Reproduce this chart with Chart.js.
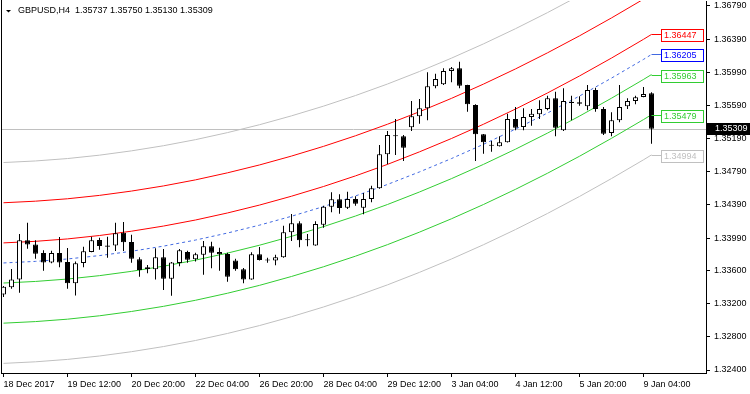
<!DOCTYPE html>
<html>
<head>
<meta charset="utf-8">
<title>GBPUSD,H4</title>
<script src="https://cdn.jsdelivr.net/npm/chart.js@4.4.0/dist/chart.umd.min.js"></script>
<style>
  html, body { margin: 0; padding: 0; background: #fff; }
  #wrap { width: 750px; height: 394px; }
</style>
</head>
<body>
<div id="wrap"><canvas id="chart" width="750" height="394"></canvas></div>
<script>
const chartTitle = 'GBPUSD,H4  1.35737 1.35750 1.35130 1.35309';

// H4 candles, oldest first
const opens = [1.33312, 1.33397, 1.33493, 1.33964, 1.33915, 1.33811, 1.33698, 1.33811, 1.33702, 1.33445,
    1.33690, 1.33823, 1.33967, 1.33903, 1.33903, 1.34055, 1.33943, 1.33735, 1.33638, 1.33614,
    1.33759, 1.33501, 1.33690, 1.33823, 1.33735, 1.33790, 1.33891, 1.33823, 1.33798, 1.33722,
    1.33614, 1.33493, 1.33795, 1.33724, 1.33722, 1.33759, 1.34060, 1.34169, 1.33976, 1.33903,
    1.34152, 1.34369, 1.34458, 1.34357, 1.34462, 1.34357, 1.34462, 1.34591, 1.35001, 1.35230,
    1.35218, 1.35327, 1.35460, 1.35556, 1.35821, 1.35845, 1.36006, 1.36039, 1.35837, 1.35596,
    1.35242, 1.35105, 1.35098, 1.35146, 1.35427, 1.35330, 1.35451, 1.35484, 1.35548, 1.35677,
    1.35291, 1.35636, 1.35628, 1.35580, 1.35777, 1.35548, 1.35258, 1.35411, 1.35580, 1.35644,
    1.35692, 1.35737];
const highs = [1.33412, 1.33617, 1.34040, 1.34176, 1.33964, 1.33843, 1.33838, 1.34004, 1.33871, 1.33710,
    1.33887, 1.34007, 1.33995, 1.34007, 1.34176, 1.34184, 1.34031, 1.33759, 1.33666, 1.33867,
    1.33859, 1.33702, 1.33859, 1.33838, 1.33814, 1.33955, 1.33947, 1.33874, 1.33814, 1.33742,
    1.33630, 1.33819, 1.33883, 1.33754, 1.33790, 1.34140, 1.34281, 1.34193, 1.34040, 1.34193,
    1.34381, 1.34543, 1.34519, 1.34550, 1.34494, 1.34534, 1.34622, 1.35113, 1.35282, 1.35427,
    1.35234, 1.35644, 1.35668, 1.35990, 1.35973, 1.36039, 1.36054, 1.36118, 1.35840, 1.35604,
    1.35245, 1.35162, 1.35218, 1.35491, 1.35572, 1.35556, 1.35548, 1.35653, 1.35708, 1.35756,
    1.35797, 1.35708, 1.35701, 1.35837, 1.35804, 1.35572, 1.35508, 1.35837, 1.35677, 1.35708,
    1.35813, 1.35750];
const lows = [1.33280, 1.33380, 1.33332, 1.33862, 1.33742, 1.33597, 1.33686, 1.33638, 1.33380, 1.33300,
    1.33638, 1.33820, 1.33850, 1.33754, 1.33835, 1.33835, 1.33694, 1.33525, 1.33566, 1.33493,
    1.33364, 1.33295, 1.33650, 1.33694, 1.33710, 1.33549, 1.33626, 1.33597, 1.33464, 1.33597,
    1.33445, 1.33490, 1.33722, 1.33694, 1.33662, 1.33755, 1.33955, 1.33879, 1.33891, 1.33900,
    1.34116, 1.34301, 1.34285, 1.34341, 1.34381, 1.34277, 1.34422, 1.34585, 1.34880, 1.34993,
    1.34920, 1.35282, 1.35370, 1.35411, 1.35797, 1.35837, 1.35870, 1.35797, 1.35515, 1.34920,
    1.35008, 1.35033, 1.35095, 1.35143, 1.35291, 1.35291, 1.35346, 1.35427, 1.35532, 1.35218,
    1.35282, 1.35411, 1.35587, 1.35532, 1.35515, 1.35234, 1.35218, 1.35387, 1.35548, 1.35604,
    1.35690, 1.35130];
const closes = [1.33404, 1.33493, 1.33964, 1.33915, 1.33802, 1.33698, 1.33811, 1.33698, 1.33445, 1.33686,
    1.33831, 1.33964, 1.33895, 1.33887, 1.34048, 1.33940, 1.33742, 1.33605, 1.33617, 1.33759,
    1.33501, 1.33698, 1.33843, 1.33730, 1.33795, 1.33891, 1.33814, 1.33795, 1.33525, 1.33614,
    1.33493, 1.33795, 1.33726, 1.33721, 1.33759, 1.34060, 1.34169, 1.33964, 1.33964, 1.34160,
    1.34369, 1.34458, 1.34353, 1.34462, 1.34405, 1.34462, 1.34591, 1.35001, 1.35234, 1.35218,
    1.35081, 1.35460, 1.35556, 1.35821, 1.35909, 1.36006, 1.36039, 1.35829, 1.35604, 1.35242,
    1.35146, 1.35103, 1.35146, 1.35427, 1.35322, 1.35451, 1.35491, 1.35548, 1.35677, 1.35322,
    1.35644, 1.35620, 1.35611, 1.35777, 1.35548, 1.35250, 1.35411, 1.35572, 1.35644, 1.35689,
    1.35728, 1.35309];

const xTickBars = [0, 8, 16, 24, 32, 40, 48, 56, 64, 72, 80];
const xTickLabels = ['18 Dec 2017', '19 Dec 12:00', '20 Dec 20:00', '22 Dec 04:00', '26 Dec 20:00',
    '28 Dec 04:00', '29 Dec 12:00', '3 Jan 04:00', '4 Jan 12:00', '5 Jan 20:00', '9 Jan 04:00'];
const yTicks = [1.32400, 1.32800, 1.33200, 1.33600, 1.33990, 1.34390, 1.34790, 1.35190,
    1.35590, 1.35990, 1.36390, 1.36790];

// regression channel: middle line, bands at fixed distances
const channelBars = [0, 4, 8, 12, 16, 20, 24, 28, 32, 36, 40, 44, 48, 52, 56, 60, 64, 68, 72, 76, 80, 81];
const channelMid = [1.33691, 1.33710, 1.33739, 1.33780, 1.33832, 1.33894, 1.33967, 1.34052, 1.34147, 1.34254,
    1.34371, 1.34499, 1.34638, 1.34789, 1.34950, 1.35122, 1.35305, 1.35499, 1.35704, 1.35920,
    1.36146, 1.36205];
const channelOffsets = [0.01211, 0.00726, 0.00242, 0, -0.00242, -0.00726, -0.01211];
const channelColors = ['#c0c0c0', '#ff0000', '#ff0000', '#4169e1', '#32cd32', '#32cd32', '#c0c0c0'];
const lastPrice = 1.35309;

const FONT = '"Liberation Sans", Arial, sans-serif';

const bars = opens.map(function (o, i) { return i; });
const bodyColors = opens.map(function (o, i) {
    if (Math.abs(closes[i] - o) < 0.00005) return '#000000';
    return closes[i] > o ? '#ffffff' : '#000000';
});

const lineSets = channelOffsets.map(function (off, k) {
    return {
        type: 'line',
        data: channelBars.map(function (b, j) { return { x: b, y: channelMid[j] + off }; }),
        borderColor: channelColors[k],
        borderWidth: 1,
        borderDash: k === 3 ? [3, 3] : [],
        pointRadius: 0,
        fill: false,
        tension: 0,
        order: 2
    };
});

const overlay = {
    id: 'overlay',
    beforeDatasetsDraw(chart) {
        const { ctx, chartArea: a, scales: { y } } = chart;
        const py = Math.round(y.getPixelForValue(lastPrice)) + 0.5;
        ctx.save();
        ctx.strokeStyle = '#c0c0c0';
        ctx.lineWidth = 1;
        ctx.beginPath();
        ctx.moveTo(a.left, py);
        ctx.lineTo(a.right, py);
        ctx.stroke();
        ctx.restore();
    },
    afterDraw(chart) {
        const { ctx, chartArea: a, scales: { x, y } } = chart;
        ctx.save();
        ctx.lineWidth = 1;
        ctx.strokeStyle = '#000';
        ctx.beginPath();
        ctx.moveTo(a.left + 0.5, 0);
        ctx.lineTo(a.left + 0.5, a.bottom);
        ctx.stroke();

        ctx.font = '9px ' + FONT;
        ctx.textBaseline = 'middle';

        // end-of-line price labels
        const endX = x.getPixelForValue(channelBars[channelBars.length - 1]);
        const endMid = channelMid[channelMid.length - 1];
        channelOffsets.forEach(function (off, k) {
            const v = endMid + off;
            if (v > y.max || v < y.min) return;
            const py = Math.round(y.getPixelForValue(v)) + 0.5;
            const col = k === 3 ? '#0000ff' : channelColors[k];
            ctx.strokeStyle = channelColors[k];
            ctx.beginPath();
            ctx.moveTo(endX, py);
            ctx.lineTo(661.5, py);
            ctx.stroke();
            ctx.fillStyle = '#fff';
            ctx.fillRect(661.5, py - 5, 42, 12);
            ctx.strokeStyle = col;
            ctx.strokeRect(661.5, py - 5, 42, 12);
            ctx.fillStyle = col;
            ctx.fillText(v.toFixed(5), 664, py + 1);
        });

        // current price box
        const pp = Math.round(y.getPixelForValue(lastPrice));
        ctx.fillStyle = '#000';
        ctx.fillRect(707, pp - 6, 43, 12);
        ctx.fillStyle = '#fff';
        ctx.fillText(lastPrice.toFixed(5), 715, pp);

        // title
        ctx.fillStyle = '#000';
        ctx.beginPath();
        ctx.moveTo(6, 10);
        ctx.lineTo(11, 10);
        ctx.lineTo(8.5, 12.5);
        ctx.closePath();
        ctx.fill();
        ctx.fillText(chartTitle, 18, 11);
        ctx.restore();
    }
};

new Chart(document.getElementById('chart').getContext('2d'), {
    type: 'bar',
    data: {
        datasets: [{
            label: 'body',
            data: bars.map(function (i) { return { x: i, y: [opens[i], closes[i]] }; }),
            backgroundColor: bodyColors,
            borderColor: '#000000',
            borderWidth: 1,
            borderSkipped: false,
            barThickness: 5,
            minBarLength: 1,
            inflateAmount: 0,
            grouped: false,
            order: 0
        }, {
            label: 'wick',
            data: bars.map(function (i) { return { x: i, y: [lows[i], highs[i]] }; }),
            backgroundColor: '#000000',
            borderWidth: 0,
            barThickness: 1,
            minBarLength: 1,
            inflateAmount: 0,
            grouped: false,
            order: 1
        }].concat(lineSets)
    },
    options: {
        responsive: false,
        animation: false,
        devicePixelRatio: 1,
        layout: { padding: { left: 1, top: 1, right: 0, bottom: 0 } },
        plugins: { legend: { display: false }, tooltip: { enabled: false } },
        scales: {
            x: {
                type: 'linear',
                position: 'bottom',
                min: -0.3125,
                max: 87.8125,
                offset: false,
                afterBuildTicks: function (s) { s.ticks = xTickBars.map(function (v) { return { value: v }; }); },
                afterFit: function (s) { s.height = 21; s.paddingLeft = 0; s.paddingRight = 0; },
                grid: { display: true, drawOnChartArea: false, drawTicks: true, tickLength: 4, color: '#000', offset: false },
                border: { display: true, color: '#000' },
                ticks: {
                    autoSkip: false, maxRotation: 0, align: 'start', padding: 2,
                    color: '#000', font: { family: FONT, size: 9 },
                    callback: function (v) { return xTickLabels[xTickBars.indexOf(v)]; }
                }
            },
            y: {
                type: 'linear',
                position: 'right',
                min: 1.32364,
                max: 1.36850,
                afterBuildTicks: function (s) { s.ticks = yTicks.map(function (v) { return { value: v }; }); },
                afterFit: function (s) { s.width = 44; s.paddingTop = 0; s.paddingBottom = 0; },
                grid: { display: true, drawOnChartArea: false, drawTicks: true, tickLength: 4, color: '#000' },
                border: { display: true, color: '#000' },
                ticks: {
                    autoSkip: false, padding: 4,
                    color: '#000', font: { family: FONT, size: 9 },
                    callback: function (v) { return v.toFixed(5); }
                }
            }
        }
    },
    plugins: [overlay]
});
</script>
</body>
</html>
